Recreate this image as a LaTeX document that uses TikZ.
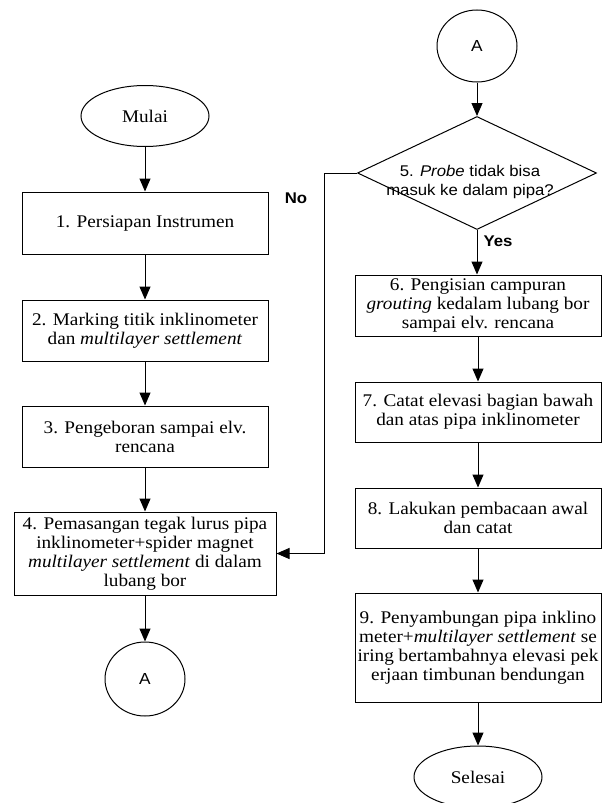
\documentclass[tikz,border=0pt]{standalone}
\usepackage{fontspec}
\setmainfont{Liberation Serif}[FakeStretch=1.08]
\setsansfont{Liberation Sans}[FakeStretch=1.08]
\usetikzlibrary{arrows.meta,shapes.geometric,calc}

\tikzset{
  stepbox/.style={draw=black, line width=1pt, rectangle, minimum width=246pt,
    inner sep=1pt, align=center, font=\fontsize{17.8}{19}\selectfont},
  terminal/.style={draw=black, line width=1pt, ellipse, minimum width=128pt,
    minimum height=61pt, inner sep=0pt, font=\fontsize{17.8}{19}\selectfont},
  connector/.style={draw=black, line width=1pt, ellipse, minimum width=80pt,
    minimum height=74pt, inner sep=0pt, font=\sffamily\fontsize{16}{18}\selectfont},
  decision/.style={draw=black, line width=1pt, diamond, minimum width=239pt,
    minimum height=113pt, inner sep=0pt},
  flow/.style={draw=black, line width=1pt, -{Triangle[length=13pt,width=11pt]}},
  branch/.style={font=\sffamily\bfseries\fontsize{15.5}{17}\selectfont}
}

\begin{document}
\begin{tikzpicture}[x=1pt, y=-1pt]
  \useasboundingbox[fill=white] (0,0) rectangle (603,803);
  \clip (0,0) rectangle (603,803);

  % left column
  \node[terminal] (start) at (145,116) {Mulai};
  \node[stepbox, minimum height=62pt] (s1) at (145,223) {1. Persiapan Instrumen};
  \node[stepbox, minimum height=61pt] (s2) at (145,330.5)
    {2. Marking titik inklinometer\\ dan \textit{multilayer settlement}};
  \node[stepbox, minimum height=61pt] (s3) at (145,436.5)
    {3. Pengeboran sampai elv.\\ rencana};
  \node[stepbox, minimum width=262pt, minimum height=83pt] (s4) at (145,553.5)
    {4. Pemasangan tegak lurus pipa\\ inklinometer+spider magnet\\
     \textit{multilayer settlement} di dalam\\ lubang bor};
  \node[connector] (aout) at (145,679) {A};

  % right column
  \node[connector, minimum height=72pt] (ain) at (477,46) {A};
  \node[decision] (d5) at (477,173) {};
  \node[font=\sffamily\fontsize{15.5}{18.5}\selectfont, align=center, inner sep=0pt]
    (d5text) at (470,182) {5. \textit{Probe} tidak bisa\\ masuk ke dalam pipa?};
  \node[stepbox, minimum height=61pt] (s6) at (478,305.5)
    {6. Pengisian campuran\\ \textit{grouting} kedalam lubang bor\\ sampai elv. rencana};
  \node[stepbox, minimum height=60pt] (s7) at (478,412)
    {7. Catat elevasi bagian bawah\\ dan atas pipa inklinometer};
  \node[stepbox, minimum height=60pt] (s8) at (478,518)
    {8. Lakukan pembacaan awal\\ dan catat};
  \node[stepbox, minimum height=109pt] (s9) at (478,647.5)
    {9. Penyambungan pipa inklino\\ meter+\textit{multilayer settlement} se\\
     iring bertambahnya elevasi pek\\ erjaan timbunan bendungan};
  \node[terminal, minimum height=62pt] (stop) at (478,777) {Selesai};

  % branch labels
  \node[branch] (nolbl) at (296,198) {No};
  \node[branch] (yeslbl) at (498,241) {Yes};

  % connectors
  \draw[flow] (start) -- (s1);
  \draw[flow] (s1) -- (s2);
  \draw[flow] (s2) -- (s3);
  \draw[flow] (s3) -- (s4);
  \draw[flow] (s4) -- (aout);

  \draw[flow] (ain) -- (d5.north);
  \draw[flow] (d5.south) -- (s6.north -| d5.south);
  \draw[flow] (s6) -- (s7);
  \draw[flow] (s7) -- (s8);
  \draw[flow] (s8) -- (s9);
  \draw[flow] (s9) -- (stop);
  \draw[flow] (d5.west) -- ++(-33,0) |- (s4.east);
\end{tikzpicture}
\end{document}
